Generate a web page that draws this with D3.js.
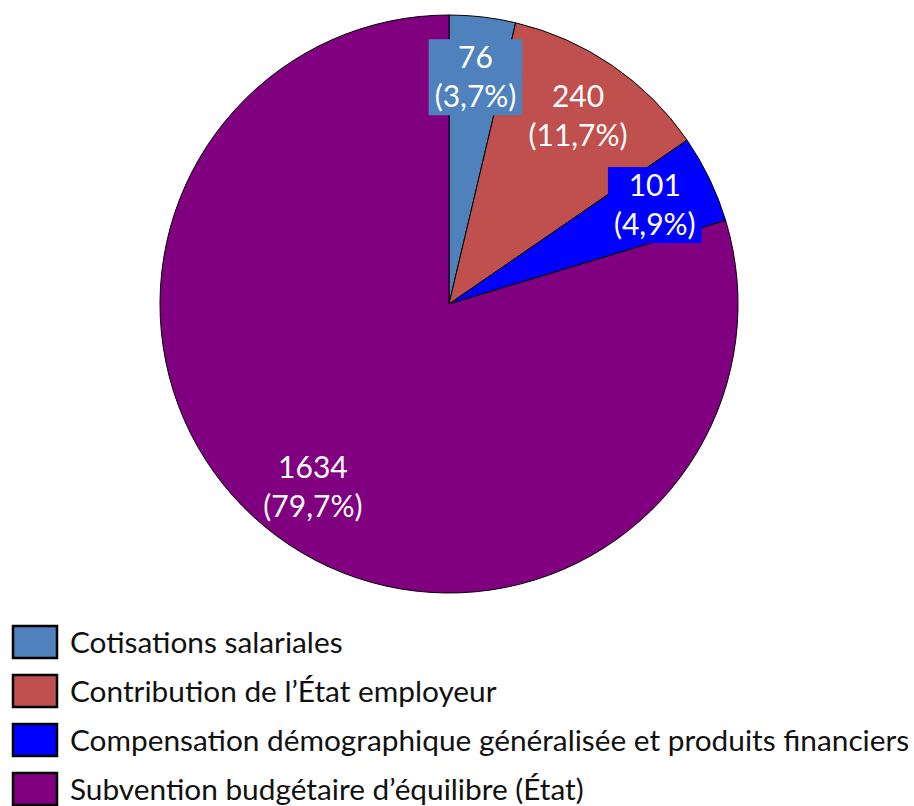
<!DOCTYPE html>
<html>
<head>
<meta charset="utf-8">
<script src="https://cdn.jsdelivr.net/npm/d3@7"></script>
<style>
  body { margin: 0; background: #fff; }
  svg { display: block; }
  text { font-family: Lato, "Open Sans", sans-serif; }
</style>
</head>
<body>
<div id="vis"></div>
<script>
// chart data
const categories = [
  "Cotisations salariales",
  "Contribution de l\u2019\u00c9tat employeur",
  "Compensation d\u00e9mographique g\u00e9n\u00e9ralis\u00e9e et produits financiers",
  "Subvention budg\u00e9taire d\u2019\u00e9quilibre (\u00c9tat)"
];
const values = [76, 240, 101, 1634];
const colours = ["#4F81BD", "#C0504D", "#0000FF", "#800080"];

const width = 914;
const height = 806;
const centre = { x: 449, y: 304 };
const radius = 289;

const total = d3.sum(values);
const pct = v => "(" + (v / total * 100).toFixed(1).replace(".", ",") + "%)";

const svg = d3.select("#vis").append("svg")
  .attr("width", width)
  .attr("height", height);

// label boxes only show inside the pie disc
svg.append("clipPath").attr("id", "disc")
  .append("circle").attr("r", radius - 1);

const pie = d3.pie().sort(null).value(d => d);
const arcs = pie(values);

const arc = d3.arc().innerRadius(0).outerRadius(radius);
// labels sit at roughly 80% of the radius
const labelArc = d3.arc().innerRadius(radius * 0.79).outerRadius(radius * 0.79);

const g = svg.append("g").attr("transform", `translate(${centre.x},${centre.y})`);

g.selectAll("path.slice")
  .data(arcs)
  .enter().append("path")
  .attr("class", "slice")
  .attr("d", arc)
  .attr("fill", (d, i) => colours[i])
  .attr("stroke", "#000")
  .attr("stroke-width", 1);

// data labels with slice-coloured boxes
const lineGap = 39;
const boxes = g.append("g").attr("clip-path", "url(#disc)");
const labels = g.selectAll("g.label")
  .data(arcs)
  .enter().append("g")
  .attr("class", "label")
  .attr("transform", d => `translate(${labelArc.centroid(d)})`);

const txt = labels.append("text")
  .attr("text-anchor", "middle")
  .attr("fill", "#fff")
  .style("font-size", "30px");
txt.append("tspan").attr("x", 0).attr("y", -lineGap / 2).attr("dy", "0.35em").text(d => d.value);
txt.append("tspan").attr("x", 0).attr("y", lineGap / 2).attr("dy", "0.35em").text(d => pct(d.value));

labels.each(function(d, i) {
  const b = d3.select(this).select("text").node().getBBox();
  const c = labelArc.centroid(d);
  const padX = 6;
  boxes.append("rect")
    .attr("x", c[0] + b.x - padX)
    .attr("y", c[1] - 38)
    .attr("width", b.width + padX * 2)
    .attr("height", 76)
    .attr("fill", colours[i]);
});
labels.raise();

// legend
const legend = svg.append("g").attr("transform", "translate(12,625)");
const rowGap = 49;
const items = legend.selectAll("g")
  .data(categories)
  .enter().append("g")
  .attr("transform", (d, i) => `translate(0,${i * rowGap})`);

items.append("rect")
  .attr("x", 1).attr("y", 1)
  .attr("width", 44).attr("height", 32)
  .attr("fill", (d, i) => colours[i])
  .attr("stroke", "#000")
  .attr("stroke-width", 2.5);

items.append("text")
  .attr("x", 58)
  .attr("y", 18)
  .attr("dy", "0.35em")
  .attr("fill", "#111")
  .style("font-size", "29.8px")
  .text(d => d);
</script>
</body>
</html>
